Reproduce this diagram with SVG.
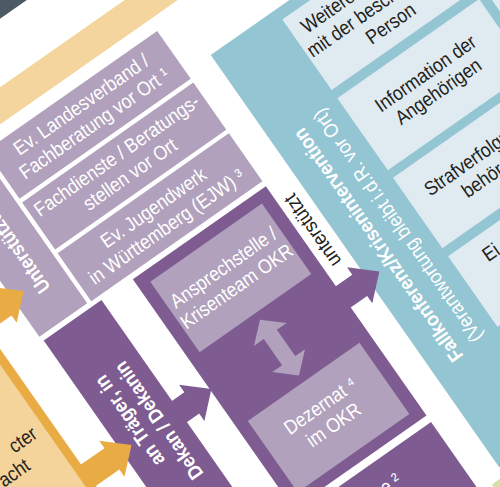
<svg xmlns="http://www.w3.org/2000/svg" width="500" height="487" viewBox="0 0 500 487">
<style>
.lp{fill:#b1a1bc}
.dp{fill:#7e5b90}
.bl{fill:#94c5d3}
.lb{fill:#dfeaf1}
.or{fill:#e9ac45}
.be{fill:#f4d59e}
text{font-family:"Liberation Sans",Arial,sans-serif;font-size:20px}
.w{fill:#fff}
.k{fill:#231f20}
.b{font-weight:bold}
</style>
<rect width="500" height="487" fill="#fff"/>
<g transform="rotate(-35)">
  <g id="background">
    <rect x="-400" y="-400" width="1200" height="415.4" fill="#4b5a63"/>
    <rect x="-400" y="71.5" width="900" height="30.5" class="be"/>
  </g>
  <g id="verdacht">
    <rect x="-500" y="150" width="300" height="500" class="or"/>
    <rect x="-500" y="160" width="291" height="480" fill="#f4d49b"/>
    <text class="k" text-anchor="end" transform="translate(-219,380) scale(0.88,1)">cter</text>
    <text class="k" text-anchor="end" transform="translate(-243,402) scale(0.88,1)">acht</text>
  </g>
  <g id="unterstuetzung">
    <rect x="-161" y="115.5" width="58.5" height="183" class="lp"/>
    <text class="w b" font-size="24" text-anchor="middle" transform="translate(-123,207) rotate(-90) scale(0.85,1)">Unterstützung</text>
  </g>
  <g id="landesverband">
    <rect x="-98" y="115.5" width="209" height="58.5" class="lp"/>
    <text class="w" text-anchor="middle" transform="translate(6.5,139) scale(0.88,1)">Ev. Landesverband /</text>
    <text class="w" text-anchor="middle" transform="translate(6.5,162) scale(0.88,1)">Fachberatung vor Ort ¹</text>
  </g>
  <g id="fachdienste">
    <rect x="-98" y="178.5" width="209" height="57.5" class="lp"/>
    <text class="w" text-anchor="middle" transform="translate(6.5,201) scale(0.88,1)">Fachdienste / Beratungs-</text>
    <text class="w" text-anchor="middle" transform="translate(6.5,224) scale(0.88,1)">stellen vor Ort</text>
  </g>
  <g id="ejw">
    <rect x="-98" y="240.5" width="209" height="58.5" class="lp"/>
    <text class="w" text-anchor="middle" transform="translate(6.5,265) scale(0.88,1)">Ev. Jugendwerk</text>
    <text class="w" text-anchor="middle" transform="translate(6.5,288) scale(0.88,1)">in Württemberg (EJW) ³</text>
  </g>
  <g id="meldung">
    <rect x="-159.5" y="304" width="70.5" height="400" class="dp"/>
    <text class="w b" font-size="22" text-anchor="end" transform="translate(-128.5,366) rotate(-90) scale(0.9,1)">an Träger, in</text>
    <text class="w b" font-size="22" text-anchor="end" transform="translate(-104.5,366) rotate(-90) scale(0.9,1)">Dekan / Dekanin</text>
  </g>
  <g id="krisenteam">
    <rect x="-51.4" y="305" width="162.4" height="280" class="dp"/>
    <g id="ansprechstelle">
      <rect x="-38.5" y="317" width="136.3" height="86" class="lp"/>
      <text class="w" text-anchor="middle" transform="translate(29.6,354) scale(0.88,1)">Ansprechstelle /</text>
      <text class="w" text-anchor="middle" transform="translate(29.6,377) scale(0.88,1)">Krisenteam OKR</text>
    </g>
    <g id="dezernat">
      <rect x="-38.5" y="487" width="136.3" height="87" class="lp"/>
      <text class="w" text-anchor="middle" transform="translate(29.6,523) scale(0.88,1)">Dezernat ⁴</text>
      <text class="w" text-anchor="middle" transform="translate(29.6,546) scale(0.88,1)">im OKR</text>
    </g>
  </g>
  <g id="stelle">
    <rect x="-51.4" y="593" width="162.4" height="200" class="dp"/>
    <text class="w" transform="translate(32,627) scale(0.88,1)">e ²</text>
  </g>
  <g id="fallkonferenz">
    <rect x="141" y="166" width="500" height="503" class="bl"/>
    <text class="w b" font-size="24" text-anchor="middle" transform="translate(176,417.5) rotate(-90) scale(0.9,1)">Fallkonferenz/Krisenintervention</text>
    <text class="w" font-size="19" text-anchor="middle" transform="translate(203,413) rotate(-90) scale(0.89,1)">(Verantwortung bleibt i.d.R. vor Ort)</text>
  </g>
  <g id="weiteres">
    <rect x="220" y="178" width="173" height="86" class="lb"/>
    <text class="k" text-anchor="middle" transform="translate(306.5,204) scale(0.88,1)">Weiteres Vorgehen</text>
    <text class="k" text-anchor="middle" transform="translate(306.5,227) scale(0.88,1)">mit der beschuldigten</text>
    <text class="k" text-anchor="middle" transform="translate(306.5,250) scale(0.88,1)">Person</text>
  </g>
  <g id="information">
    <rect x="220" y="274" width="173" height="88" class="lb"/>
    <text class="k" text-anchor="middle" transform="translate(306.5,311) scale(0.88,1)">Information der</text>
    <text class="k" text-anchor="middle" transform="translate(306.5,333) scale(0.88,1)">Angehörigen</text>
  </g>
  <g id="strafverfolgung">
    <rect x="220" y="371" width="173" height="86" class="lb"/>
    <text class="k" text-anchor="middle" transform="translate(306.5,408) scale(0.88,1)">Strafverfolgungs-</text>
    <text class="k" text-anchor="middle" transform="translate(306.5,431) scale(0.88,1)">behörden</text>
  </g>
  <g id="ei">
    <rect x="220" y="467" width="173" height="86" class="lb"/>
    <text class="k" transform="translate(249.5,495) scale(0.88,1)">Ei</text>
  </g>
  <g id="rechts">
    <rect x="403" y="178" width="200" height="86" class="lb"/>
    <rect x="403" y="274" width="200" height="88" class="lb"/>
  </g>
  <g id="green">
    <rect x="125" y="679" width="400" height="200" fill="#d6dfa5"/>
  </g>
  <g id="connectors">
    <polygon class="or" points="-205,239 -171.5,239 -171.5,230 -147.5,252 -171.5,274 -171.5,265 -205,265"/>
    <polygon class="or" points="-205,427 -171.5,427 -171.5,418 -147.5,440 -171.5,462 -171.5,453 -205,453"/>
    <polygon class="dp" points="-90,427 -74,427 -74,418 -50,440 -74,462 -74,453 -90,453"/>
    <polygon class="dp" points="110,427 131,427 131,418 155,440 131,462 131,453 110,453"/>
    <polygon class="lp" points="29.6,411 49.6,429 37.6,429 37.6,461 49.6,461 29.6,479 9.6,461 21.6,461 21.6,429 9.6,429"/>
    <text class="k" font-size="20" text-anchor="middle" transform="translate(130.5,368) rotate(-90) scale(0.9,1)">unterstützt</text>
  </g>
</g>
</svg>
